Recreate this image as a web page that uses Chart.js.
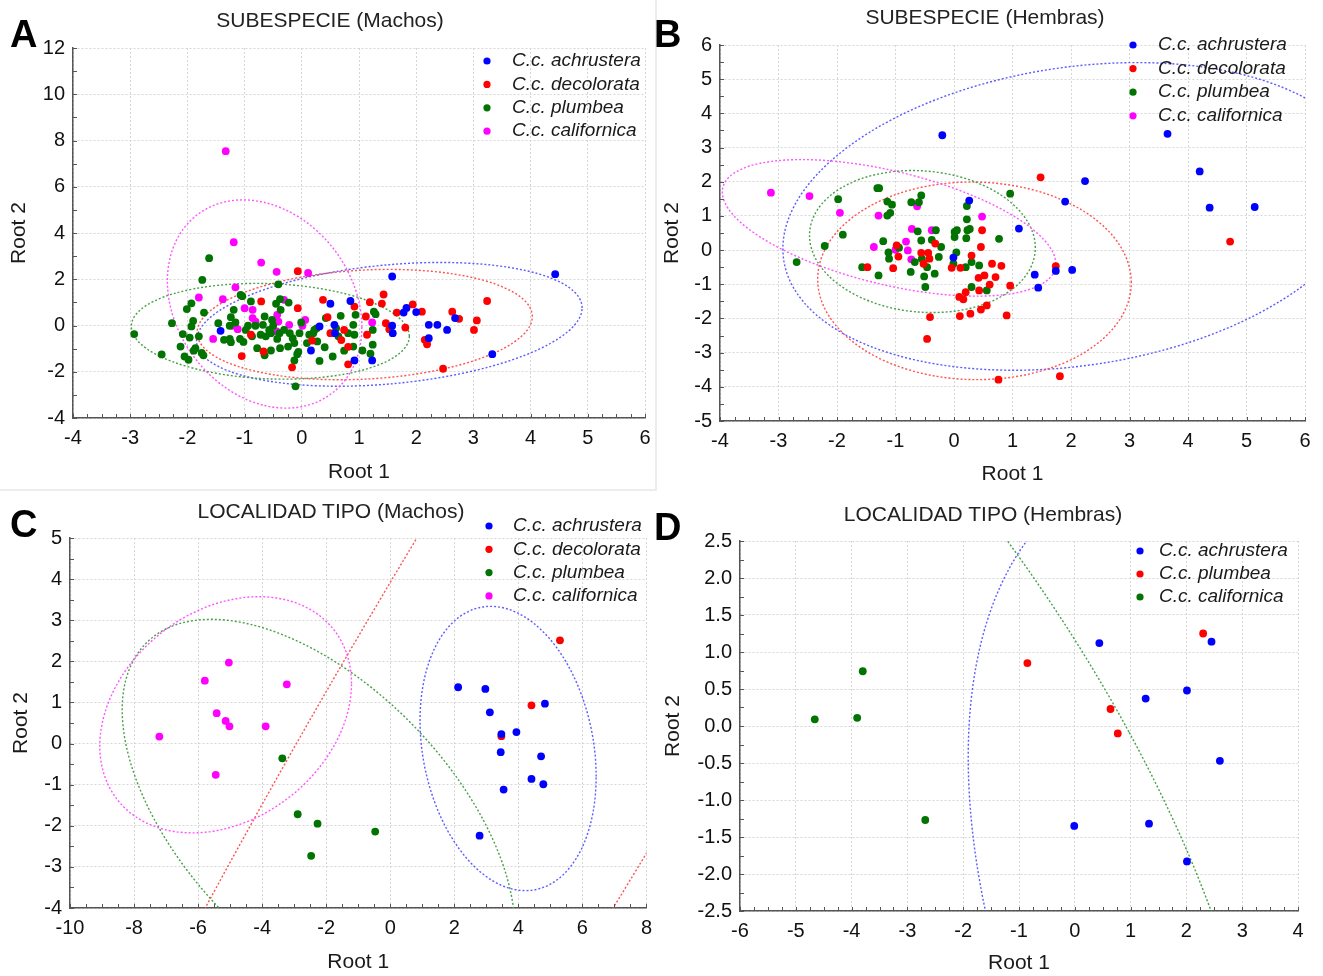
<!DOCTYPE html>
<html>
<head>
<meta charset="utf-8">
<script src="https://cdn.jsdelivr.net/npm/chart.js@4.4.1/dist/chart.umd.min.js"></script>
<style>
  body { margin: 0; background: #fff; width: 1323px; height: 976px; position: relative; overflow: hidden;
         font-family: "Liberation Sans", Arial, sans-serif; }
  canvas { position: absolute; }
  .title { position: absolute; font-size: 21px; line-height: 24px; color: #222; transform: translateX(-50%); white-space: nowrap; }
  .letter { position: absolute; font-size: 38px; line-height: 40px; font-weight: bold; color: #000; }
  .sep { position: absolute; background: #ececec; }
</style>
</head>
<body>
<div class="sep" style="left:655px;top:0;width:2px;height:490px"></div>
<div class="sep" style="left:0;top:489px;width:657px;height:2px"></div>

<canvas id="cA" width="660" height="490" style="left:0;top:0"></canvas>
<canvas id="cB" width="663" height="490" style="left:660px;top:0"></canvas>
<canvas id="cC" width="660" height="486" style="left:0;top:490px"></canvas>
<canvas id="cD" width="663" height="486" style="left:660px;top:490px"></canvas>

<div class="title" style="left:330px;top:8px">SUBESPECIE (Machos)</div>
<div class="title" style="left:985px;top:5px">SUBESPECIE (Hembras)</div>
<div class="title" style="left:331px;top:499px">LOCALIDAD TIPO (Machos)</div>
<div class="title" style="left:983px;top:502px">LOCALIDAD TIPO (Hembras)</div>
<div class="letter" style="left:10px;top:14px">A</div>
<div class="letter" style="left:654px;top:14px">B</div>
<div class="letter" style="left:10px;top:504px">C</div>
<div class="letter" style="left:654px;top:507px">D</div>

<script>
// ---- data (Root 1, Root 2) ----
const A_achrustera = [[4.43,2.22],[1.58,2.12],[0.50,0.94],[0.85,1.06],[1.78,0.56],[1.83,0.76],[2.00,0.58],[2.22,0.03],[2.37,0.03],[2.54,-0.19],[2.68,0.32],[1.58,-0.01],[1.59,-0.33],[2.22,-0.55],[3.33,-1.24],[-1.42,-0.23],[0.16,-1.08],[0.58,-0.33],[0.57,0.03],[0.92,-1.51],[1.23,-1.51],[0.31,-0.04]];
const A_decolorata = [[-0.07,2.35],[-0.07,0.75],[-0.71,1.04],[0.37,1.11],[0.92,0.82],[1.19,1.01],[1.43,1.34],[1.40,0.95],[1.66,0.56],[1.94,0.91],[2.10,0.60],[1.47,0.10],[1.53,-0.16],[1.81,-0.09],[2.15,-0.62],[2.19,-0.81],[2.63,0.60],[2.75,0.29],[3.06,0.22],[3.01,-0.19],[3.24,1.06],[2.47,-1.87],[0.81,-1.68],[-0.17,-1.81],[-1.05,-1.32],[-0.67,-1.12],[-0.89,-0.40],[0.18,-0.65],[0.69,-0.63],[0.50,-0.33],[0.74,-0.19],[1.14,-0.40],[1.12,0.39],[0.45,0.36],[0.81,-0.92]];
const A_plumbea = [[-2.93,-0.37],[-2.45,-1.25],[-2.27,0.10],[-2.08,-0.37],[-2.12,-0.91],[-2.05,-1.34],[-1.98,-1.48],[-2.01,0.71],[-1.93,0.96],[-1.90,0.20],[-1.93,-0.04],[-1.96,-0.52],[-1.80,-0.47],[-1.86,-0.98],[-1.89,-1.09],[-1.75,-1.19],[-1.72,-1.29],[-1.71,0.56],[-1.74,1.97],[-1.62,2.91],[-0.41,1.78],[-1.07,1.32],[-1.04,1.27],[-0.89,1.04],[-1.19,0.68],[-1.46,0.10],[-1.26,-0.01],[-1.36,-0.62],[-1.24,-0.72],[-1.26,-0.58],[-1.08,-0.58],[-1.02,-0.71],[-0.98,-0.19],[-0.94,-0.01],[-0.81,-0.01],[-0.78,-0.98],[-0.65,-1.29],[-0.63,-0.47],[-0.65,0.39],[-0.68,0.03],[-0.57,-0.19],[-0.54,-0.33],[-0.52,0.24],[-0.50,-0.01],[-0.39,-0.33],[-0.45,0.94],[-0.38,1.14],[-0.23,0.99],[-0.37,0.68],[-0.43,-0.58],[-0.54,-1.08],[-0.38,-0.98],[-0.13,-1.51],[-0.11,-2.63],[-0.08,-1.24],[-0.06,-1.14],[-0.04,-0.33],[-0.16,-0.55],[-0.01,0.13],[0.13,-0.40],[0.09,-0.76],[0.22,-0.19],[0.26,-0.12],[0.20,-0.33],[0.27,-0.69],[0.31,-1.53],[0.40,-0.94],[0.42,0.32],[0.54,-1.34],[0.60,-0.12],[0.64,-0.47],[0.68,0.42],[0.74,-1.09],[0.81,-0.33],[0.90,0.03],[0.94,0.46],[0.92,-0.40],[0.90,-0.91],[1.06,-1.08],[1.20,-1.22],[1.24,-0.83],[1.24,-0.19],[1.26,0.60],[1.29,0.49],[-1.24,0.36],[-1.16,0.13],[-0.87,-0.47],[-0.72,-0.40],[-0.24,-0.91],[-0.21,-0.33],[-0.31,-0.19],[-0.13,-0.76]];
const A_californica = [[-1.33,7.54],[-1.19,3.60],[-0.71,2.72],[-0.44,2.32],[0.11,2.27],[-1.16,1.65],[-1.80,1.21],[-1.38,1.14],[-0.31,1.11],[-1.55,-0.58],[-1.00,0.75],[-0.86,0.68],[-0.86,0.32],[-0.81,0.17],[-1.12,-0.16],[-1.21,-0.01],[-0.43,0.46],[-0.41,0.17],[-0.44,-0.26],[-0.22,0.03],[0.06,0.24],[0.01,-0.01],[1.23,0.13]];

const B_achrustera = [[-0.20,3.36],[3.65,3.40],[4.20,2.30],[2.24,2.02],[1.90,1.42],[4.37,1.24],[5.14,1.26],[0.26,1.45],[1.11,0.63],[-0.01,-0.22],[1.38,-0.72],[1.74,-0.61],[2.02,-0.58],[1.44,-1.10]];
const B_decolorata = [[1.48,2.13],[4.72,0.25],[0.48,0.58],[0.46,0.09],[0.30,-0.16],[-0.32,0.19],[-0.98,0.14],[-0.95,-0.19],[-1.04,-0.53],[-1.48,-0.50],[-0.56,-0.08],[-0.44,-0.08],[-0.52,-0.40],[-0.42,-0.25],[-0.04,-0.52],[0.11,-0.52],[0.42,-0.81],[0.52,-0.74],[0.65,-0.40],[0.81,-0.46],[0.71,-0.79],[0.61,-1.01],[0.43,-1.18],[0.96,-1.04],[0.20,-1.23],[0.09,-1.37],[0.16,-1.44],[-0.41,-1.96],[0.10,-1.93],[0.28,-1.86],[0.46,-1.74],[0.56,-1.62],[0.90,-1.91],[-0.46,-2.60],[0.76,-3.79],[1.81,-3.69],[1.74,-0.47]];
const B_plumbea = [[-2.69,-0.35],[-2.21,0.12],[-1.90,0.45],[-1.98,1.49],[-1.31,1.81],[-1.28,1.81],[-1.14,1.42],[-1.06,1.33],[-1.09,1.09],[-1.14,1.01],[-0.73,1.40],[-0.56,1.60],[-0.60,1.40],[-1.21,0.26],[-1.12,-0.07],[-1.11,-0.25],[-0.94,0.07],[-1.29,-0.74],[-1.57,-0.50],[-0.62,0.55],[-0.56,0.28],[-0.55,-0.25],[-0.74,-0.64],[-0.51,-0.77],[-0.49,-1.08],[-0.33,-0.69],[-0.31,0.58],[-0.38,0.30],[-0.26,-0.20],[-0.22,0.09],[-0.46,-0.50],[-0.67,-0.35],[0.01,0.53],[0.05,0.58],[0.01,0.38],[0.04,-0.07],[0.22,1.29],[0.22,0.90],[0.23,0.58],[0.27,0.62],[0.21,0.35],[0.30,-0.35],[0.43,-0.45],[0.30,-1.08],[0.56,-1.18],[0.77,0.33],[0.96,1.65],[-0.01,-0.40],[0.20,-0.50]];
const B_californica = [[-3.13,1.68],[-2.47,1.58],[-1.95,1.09],[-1.29,1.01],[-0.63,1.28],[0.48,0.98],[-0.72,0.62],[-0.38,0.58],[-0.82,0.25],[-1.37,0.09],[-1.00,0.01],[-0.79,-0.01],[-0.73,-0.27]];

const C_achrustera = [[2.12,1.37],[2.97,1.33],[3.11,0.76],[4.83,0.97],[3.94,0.28],[3.47,0.23],[3.45,-0.21],[4.71,-0.31],[4.41,-0.86],[4.78,-0.99],[3.54,-1.12],[2.79,-2.24]];
const C_decolorata = [[5.30,2.51],[4.41,0.93],[3.47,0.18]];
const C_plumbea = [[-3.37,-0.36],[-2.89,-1.72],[-2.27,-1.95],[-2.47,-2.73],[-0.47,-2.14]];
const C_californica = [[-7.21,0.17],[-5.79,1.53],[-5.04,1.97],[-5.42,0.74],[-5.14,0.55],[-5.02,0.42],[-3.89,0.42],[-3.23,1.44],[-5.45,-0.76]];

const D_achrustera = [[0.44,1.12],[2.45,1.14],[2.01,0.48],[1.27,0.37],[2.60,-0.47],[-0.01,-1.35],[1.33,-1.32],[2.01,-1.83]];
const D_plumbea = [[-0.85,0.85],[2.30,1.25],[0.64,0.23],[0.77,-0.10]];
const D_californica = [[-4.66,0.09],[-3.90,0.11],[-3.80,0.74],[-2.68,-1.27]];

// ellipses: centre x, centre y, conjugate half-axis u (x, y), conjugate half-axis v (x, y)
const A_ellipses = [[1.53,0.05,3.37,0.71,0,2.58],[1.10,0.04,2.93,0.35,0,2.36],[-0.55,-0.25,2.43,-0.21,0,2.06],[-0.65,0.93,1.70,-1.00,0,4.39]];
const B_ellipses = [[2.075,0.985,5.0,0.945,0,4.40],[0.35,-0.90,2.68,-0.05,0,2.89],[-0.54,0.25,1.93,-0.18,0,2.07],[-1.11,0.65,2.85,-1.05,0,1.70]];
const C_ellipses = [[3.68,-0.12,2.75,-0.68,0,3.39],[4.45,1.21,6.49,0,20,27],[-2.24,-1.84,6.13,-2.66,0,4.07],[-5.14,0.70,3.93,0.76,0,2.77]];
const D_ellipses = [[6.09,-4.53,8.0,-4.11,0,6.99],[-3.76,-0.08,4.73,0,-5.2,7.2]];

const blue = '#0000ff', red = '#ff0000', green = '#007300', pink = '#ff00ff';
const eBlue = '#5c5cff', eRed = '#ff5252', eGreen = '#48a048', ePink = '#ff55ff';

Chart.defaults.font.family = '"Liberation Sans", Arial, sans-serif';
Chart.defaults.color = '#000';

// dotted confidence ellipses, drawn under the points
const ellipsePlugin = {
  id: 'ellipses',
  beforeDatasetsDraw(chart, args, opts) {
    const { ctx, chartArea: ca, scales: { x, y } } = chart;
    ctx.save();
    ctx.beginPath();
    ctx.rect(ca.left, ca.top, ca.width, ca.height);
    ctx.clip();
    ctx.lineWidth = 1.4;
    ctx.setLineDash([2, 2]);
    opts.list.forEach((e, i) => {
      const [cx, cy, ux, uy, vx, vy] = e;
      const px = x.getPixelForValue(cx), py = y.getPixelForValue(cy);
      const a = x.getPixelForValue(cx + ux) - px, b = y.getPixelForValue(cy + uy) - py;
      const c = x.getPixelForValue(cx + vx) - px, d = y.getPixelForValue(cy + vy) - py;
      ctx.beginPath();
      ctx.save();
      ctx.transform(a, b, c, d, px, py);
      ctx.arc(0, 0, 1, 0, Math.PI * 2);
      ctx.restore();
      ctx.strokeStyle = opts.colors[i];
      ctx.stroke();
    });
    ctx.restore();
  }
};

// small inward ticks on the axes
const minorTicks = {
  id: 'minorTicks',
  afterDraw(chart, args, opts) {
    const { ctx, chartArea: ca, scales: { x, y } } = chart;
    ctx.save();
    ctx.strokeStyle = '#555';
    ctx.lineWidth = 1;
    ctx.beginPath();
    for (let v = x.min; v <= x.max + 1e-9; v += opts.x) {
      const p = Math.round(x.getPixelForValue(v)) + 0.5;
      ctx.moveTo(p, ca.bottom); ctx.lineTo(p, ca.bottom - 4);
    }
    for (let v = y.min; v <= y.max + 1e-9; v += opts.y) {
      const p = Math.round(y.getPixelForValue(v)) + 0.5;
      ctx.moveTo(ca.left, p); ctx.lineTo(ca.left + 4, p);
    }
    ctx.stroke();
    ctx.restore();
  }
};

// legend placed inside the plot, top right
const panelLegend = {
  id: 'panelLegend',
  afterDraw(chart, args, opts) {
    const ctx = chart.ctx;
    ctx.save();
    ctx.font = 'italic 19px "Liberation Sans", Arial, sans-serif';
    ctx.textBaseline = 'middle';
    chart.data.datasets.forEach((ds, i) => {
      const yy = opts.y + i * opts.gap;
      ctx.fillStyle = ds.backgroundColor;
      ctx.beginPath();
      ctx.arc(opts.x, yy, 3.6, 0, Math.PI * 2);
      ctx.fill();
      ctx.fillStyle = '#1a1a1a';
      ctx.fillText(ds.label, opts.x + opts.dx, yy);
    });
    ctx.restore();
  }
};

function axis(ax, cfg, isX) {
  return {
    type: 'linear',
    min: ax.min, max: ax.max,
    ticks: {
      stepSize: ax.step, padding: 8, color: '#111',
      font: { size: 20 },
      callback: v => ax.dec ? v.toFixed(ax.dec) : String(Math.round(v * 100) / 100)
    },
    grid: { color: '#d6d6d6', lineWidth: 1, drawTicks: false },
    border: { display: true, color: '#555', width: 1.5, dash: [2, 2] },
    title: {
      display: true, text: isX ? 'Root 1' : 'Root 2', color: '#1a1a1a',
      font: { size: 21 },
      padding: isX ? { top: 0, bottom: cfg.xTitlePad } : { top: cfg.yTitlePad, bottom: 0 }
    },
    afterFit: s => { if (isX) s.height = cfg.xHeight; else s.width = cfg.yWidth; }
  };
}

function makePanel(id, cfg) {
  return new Chart(document.getElementById(id), {
    type: 'scatter',
    data: {
      datasets: cfg.series.map(([label, pts, color]) => ({
        label,
        data: pts.map(([x, y]) => ({ x, y })),
        backgroundColor: color,
        pointRadius: 3.9,
        pointHoverRadius: 3.9,
        pointBorderWidth: 0,
      })),
    },
    options: {
      responsive: false,
      animation: false,
      layout: { padding: { top: cfg.pad.top, right: cfg.pad.right, left: 0, bottom: 0 } },
      scales: { x: axis(cfg.x, cfg, true), y: axis(cfg.y, cfg, false) },
      plugins: {
        legend: { display: false },
        tooltip: { enabled: false },
        ellipses: { list: cfg.ellipses, colors: cfg.ellColors },
        minorTicks: { x: cfg.x.minor, y: cfg.y.minor },
        panelLegend: cfg.legend,
      },
    },
    plugins: [ellipsePlugin, minorTicks, panelLegend],
  });
}

makePanel('cA', {
  series: [['C.c. achrustera', A_achrustera, blue], ['C.c. decolorata', A_decolorata, red],
           ['C.c. plumbea', A_plumbea, green], ['C.c. californica', A_californica, pink]],
  ellipses: A_ellipses, ellColors: [eBlue, eRed, eGreen, ePink],
  x: { min: -4, max: 6, step: 1, minor: 0.25 }, y: { min: -4, max: 12, step: 2, minor: 1 },
  yWidth: 73, xHeight: 72, pad: { top: 48, right: 15 }, yTitlePad: 7, xTitlePad: 5,
  legend: { x: 487, y: 61, gap: 23.4, dx: 25 },
});

makePanel('cB', {
  series: [['C.c. achrustera', B_achrustera, blue], ['C.c. decolorata', B_decolorata, red],
           ['C.c. plumbea', B_plumbea, green], ['C.c. californica', B_californica, pink]],
  ellipses: B_ellipses, ellColors: [eBlue, eRed, eGreen, ePink],
  x: { min: -4, max: 6, step: 1, minor: 0.25 }, y: { min: -5, max: 6, step: 1, minor: 0.5 },
  yWidth: 60, xHeight: 69, pad: { top: 45, right: 18 }, yTitlePad: 0, xTitlePad: 3,
  legend: { x: 473, y: 45, gap: 23.6, dx: 25 },
});

makePanel('cC', {
  series: [['C.c. achrustera', C_achrustera, blue], ['C.c. decolorata', C_decolorata, red],
           ['C.c. plumbea', C_plumbea, green], ['C.c. californica', C_californica, pink]],
  ellipses: C_ellipses, ellColors: [eBlue, eRed, eGreen, ePink],
  x: { min: -10, max: 8, step: 2, minor: 0.5 }, y: { min: -4, max: 5, step: 1, minor: 0.5 },
  yWidth: 70, xHeight: 68, pad: { top: 48, right: 12 }, yTitlePad: 9, xTitlePad: 1,
  legend: { x: 489, y: 36, gap: 23.3, dx: 24 },
});

makePanel('cD', {
  series: [['C.c. achrustera', D_achrustera, blue], ['C.c. plumbea', D_plumbea, red],
           ['C.c. californica', D_californica, green]],
  ellipses: D_ellipses, ellColors: [eBlue, eGreen],
  x: { min: -6, max: 4, step: 1, minor: 0.25 }, y: { min: -2.5, max: 2.5, step: 0.5, minor: 0.25, dec: 1 },
  yWidth: 80, xHeight: 65, pad: { top: 51, right: 25 }, yTitlePad: 1, xTitlePad: 0,
  legend: { x: 480, y: 61, gap: 23, dx: 19 },
});
</script>
</body>
</html>
